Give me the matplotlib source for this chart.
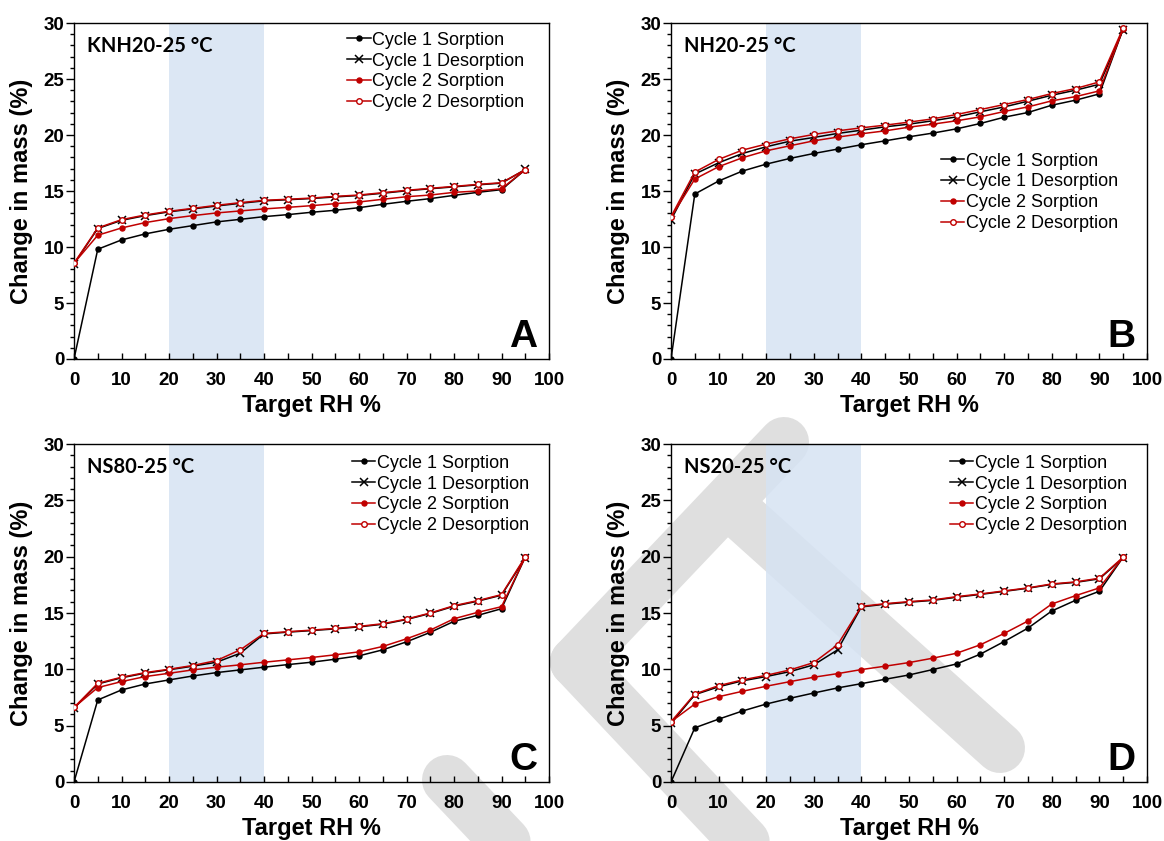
import matplotlib
matplotlib.use('Agg')
import matplotlib.pyplot as plt
from matplotlib.lines import Line2D
from matplotlib.ticker import MultipleLocator

# target RH steps (%)
rh = [0, 5, 10, 15, 20, 25, 30, 35, 40, 45, 50, 55, 60, 65, 70, 75, 80, 85, 90, 95]

# A: KNH20
a_s1 = [0, 9.8, 10.63, 11.17, 11.58, 11.91, 12.24, 12.47, 12.71, 12.89, 13.1, 13.28, 13.51, 13.81, 14.08, 14.32, 14.61, 14.88, 15.12, 16.9]
a_d1 = [8.5, 11.65, 12.38, 12.8, 13.14, 13.4, 13.66, 13.9, 14.12, 14.22, 14.33, 14.47, 14.6, 14.8, 15.02, 15.2, 15.37, 15.55, 15.7, 16.92]
a_s2 = [8.55, 11.05, 11.7, 12.18, 12.53, 12.8, 13.04, 13.22, 13.4, 13.54, 13.69, 13.87, 14.02, 14.26, 14.49, 14.64, 14.88, 15.0, 15.2, 16.9]
a_d2 = [8.55, 11.7, 12.44, 12.86, 13.19, 13.45, 13.72, 13.96, 14.17, 14.26, 14.37, 14.52, 14.64, 14.85, 15.06, 15.24, 15.41, 15.59, 15.74, 16.9]

# B: NH20
b_s1 = [0, 14.73, 15.89, 16.78, 17.4, 17.91, 18.35, 18.74, 19.13, 19.48, 19.84, 20.17, 20.55, 21.03, 21.59, 22.01, 22.66, 23.11, 23.67, 29.49]
b_d1 = [12.41, 16.51, 17.52, 18.35, 18.95, 19.45, 19.78, 20.14, 20.43, 20.73, 20.97, 21.27, 21.62, 22.07, 22.51, 23.02, 23.55, 24.0, 24.53, 29.4]
b_s2 = [12.65, 16.07, 17.17, 17.97, 18.59, 19.04, 19.48, 19.81, 20.11, 20.37, 20.7, 20.97, 21.27, 21.62, 22.1, 22.51, 23.05, 23.43, 23.94, 29.49]
b_d2 = [12.71, 16.69, 17.82, 18.65, 19.19, 19.66, 20.05, 20.37, 20.64, 20.88, 21.15, 21.44, 21.83, 22.27, 22.72, 23.17, 23.7, 24.15, 24.74, 29.58]

# C: NS80
c_s1 = [0, 7.28, 8.17, 8.7, 9.06, 9.41, 9.71, 9.95, 10.19, 10.42, 10.63, 10.9, 11.2, 11.73, 12.44, 13.28, 14.26, 14.79, 15.38, 19.96]
c_d1 = [6.55, 8.7, 9.25, 9.66, 9.96, 10.28, 10.63, 11.43, 13.14, 13.3, 13.44, 13.59, 13.77, 14.0, 14.42, 14.96, 15.6, 16.05, 16.58, 19.9]
c_s2 = [6.62, 8.38, 8.91, 9.36, 9.65, 9.95, 10.19, 10.4, 10.63, 10.84, 11.05, 11.29, 11.55, 12.03, 12.71, 13.48, 14.49, 15.06, 15.56, 19.96]
c_d2 = [6.62, 8.76, 9.3, 9.71, 10.01, 10.34, 10.78, 11.73, 13.19, 13.34, 13.48, 13.63, 13.81, 14.05, 14.46, 15.0, 15.65, 16.1, 16.63, 19.99]

# D: NS20
d_s1 = [0, 4.81, 5.58, 6.3, 6.92, 7.43, 7.9, 8.35, 8.73, 9.12, 9.5, 9.98, 10.48, 11.35, 12.47, 13.66, 15.18, 16.13, 16.93, 19.96]
d_d1 = [5.2, 7.75, 8.45, 8.98, 9.36, 9.8, 10.4, 11.73, 15.54, 15.78, 15.96, 16.12, 16.4, 16.65, 16.92, 17.2, 17.54, 17.72, 18.03, 19.9]
d_s2 = [5.35, 6.92, 7.57, 8.05, 8.5, 8.91, 9.3, 9.62, 9.98, 10.28, 10.6, 10.99, 11.43, 12.18, 13.19, 14.29, 15.8, 16.54, 17.23, 19.96]
d_d2 = [5.35, 7.81, 8.55, 9.06, 9.47, 9.95, 10.6, 12.18, 15.59, 15.83, 16.01, 16.16, 16.45, 16.69, 16.96, 17.23, 17.58, 17.76, 18.09, 19.96]

names = ['KNH20-25 °C', 'NH20-25 °C', 'NS80-25 °C', 'NS20-25 °C']
letters = ['A', 'B', 'C', 'D']
labels = ['Cycle 1 Sorption', 'Cycle 1 Desorption', 'Cycle 2 Sorption', 'Cycle 2 Desorption']

RED = '#c00000'
W, H = 1164, 841

plt.rcParams['font.family'] = ['Liberation Sans', 'DejaVu Sans']
plt.rcParams['font.weight'] = 'bold'

fig = plt.figure(figsize=(W / 100, H / 100), dpi=100)

# axes boxes in pixels: left, top, right, bottom
boxes = [(74, 23, 549, 359), (671, 23, 1147, 359), (74, 444, 549, 782), (671, 444, 1147, 782)]
legend_pos = [(0.575, 0.974), (0.567, 0.614), (0.585, 0.968), (0.586, 0.968)]
series = [(a_s1, a_d1, a_s2, a_d2), (b_s1, b_d1, b_s2, b_d2),
          (c_s1, c_d1, c_s2, c_d2), (d_s1, d_d1, d_s2, d_d2)]

# faint watermark strokes behind the panels (figure pixels)
wm = [((784, 442), (575, 662)), ((575, 662), (790, 890)), ((735, 510), (1000, 748)), ((447, 780), (570, 910))]
for (x0, y0), (x1, y1) in wm:
    fig.add_artist(Line2D([x0 / W, x1 / W], [1 - y0 / H, 1 - y1 / H], transform=fig.transFigure,
                          color='#dfdfdf', lw=36, solid_capstyle='round', zorder=-1))

for i, (l, t, r, b) in enumerate(boxes):
    ax = fig.add_axes([l / W, 1 - b / H, (r - l) / W, (b - t) / H])
    ax.set_facecolor('none')
    s1, d1, s2, d2 = series[i]
    ax.axvspan(20, 40, color='#d6e3f3', alpha=0.85, lw=0, zorder=0)
    ax.plot(rh, s1, color='black', lw=1.1, marker='o', ms=3.6, label=labels[0], zorder=3)
    ax.plot(rh, d1, color='black', lw=1.1, marker='x', ms=6, mew=1.1, label=labels[1], zorder=4)
    ax.plot(rh, s2, color=RED, lw=1.1, marker='o', ms=3.6, label=labels[2], zorder=5)
    ax.plot(rh, d2, color=RED, lw=1.1, marker='o', ms=4, mfc='white', mec=RED, mew=1.0, label=labels[3], zorder=6)

    ax.set_xlim(0, 100)
    ax.set_ylim(0, 30)
    ax.xaxis.set_major_locator(MultipleLocator(10))
    ax.xaxis.set_minor_locator(MultipleLocator(5))
    ax.yaxis.set_major_locator(MultipleLocator(5))
    ax.yaxis.set_minor_locator(MultipleLocator(1))
    ax.tick_params(axis='x', which='both', direction='in', length=4, width=1, pad=9.5, labelsize=13.5)
    ax.tick_params(axis='y', which='major', direction='out', length=6, width=1, pad=1, labelsize=13.5)
    ax.tick_params(axis='y', which='minor', direction='out', length=3, width=1)
    for sp in ax.spines.values():
        sp.set_linewidth(1.0)

    ax.set_xlabel('Target RH %', fontsize=17, fontweight='bold')
    ax.xaxis.set_label_coords(0.5, -0.105)
    ax.set_ylabel('Change in mass (%)', fontsize=17, fontweight='bold')
    ax.yaxis.set_label_coords(-0.086, 0.5)

    ax.text(0.028, 0.932, names[i], transform=ax.transAxes, fontsize=14.5, fontweight='bold',
            family=['Lato', 'DejaVu Sans'], ha='left', va='center')
    ax.text(0.975, 0.036, letters[i], transform=ax.transAxes, fontsize=28, fontweight='bold',
            ha='right', va='baseline')

    ax.legend(loc='upper left', bbox_to_anchor=legend_pos[i], frameon=False, borderpad=0,
              borderaxespad=0, handlelength=1.3, handletextpad=0.1, labelspacing=0.21,
              numpoints=1, prop={'family': 'Liberation Sans', 'size': 13, 'weight': 'normal'})

fig.savefig('out.png', dpi=100)
